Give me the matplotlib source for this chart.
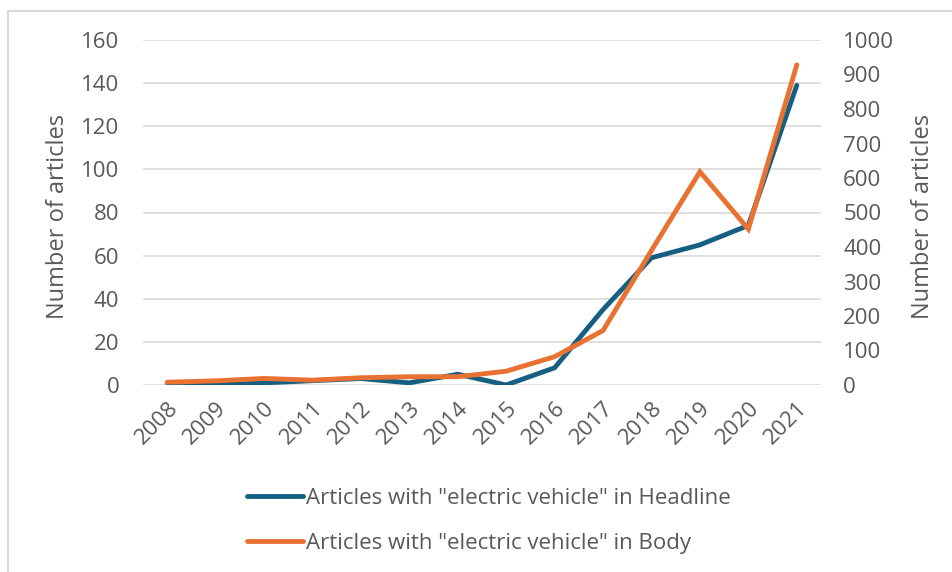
import matplotlib.pyplot as plt
from matplotlib.lines import Line2D

plt.rcParams["font.family"] = ["Open Sans", "DejaVu Sans"]

years = ["2008", "2009", "2010", "2011", "2012", "2013", "2014",
         "2015", "2016", "2017", "2018", "2019", "2020", "2021"]
headline = [1, 0, 1, 2, 3, 1, 5, 0, 8, 35, 59, 65, 74, 139]
body = [8, 12, 19, 14, 21, 24, 24, 40, 82, 158, 390, 618, 452, 928]

BLUE = "#156082"
ORANGE = "#E97132"
TEXT = "#595959"
GRID = "#D9D9D9"
FS = 16

fig = plt.figure(figsize=(9.53, 5.72), dpi=100)
ax = fig.add_axes([143 / 953, 1 - 385 / 572, 678 / 953, 345 / 572])
ax2 = ax.twinx()

x = list(range(len(years)))
l1, = ax.plot(x, headline, color=BLUE, lw=3.5, solid_capstyle="round",
              solid_joinstyle="miter",
              label='Articles with "electric vehicle" in Headline')
l2, = ax2.plot(x, body, color=ORANGE, lw=3.5, solid_capstyle="round",
               solid_joinstyle="miter",
               label='Articles with "electric vehicle" in Body')

ax.set_xlim(-0.5, len(years) - 0.5)
ax.set_ylim(0, 160)
ax2.set_ylim(0, 1000)
ax.set_yticks(range(0, 161, 20))
ax2.set_yticks(range(0, 1001, 100))
ax.set_xticks(x)
ax.set_xticklabels(years, rotation=45, ha="right", va="top",
                   rotation_mode="anchor")

ax.grid(axis="y", color=GRID, lw=1.2)
ax.set_axisbelow(True)
for a in (ax, ax2):
    for s in a.spines.values():
        s.set_visible(False)
ax.tick_params(axis="y", length=0, pad=17, labelsize=FS, labelcolor=TEXT)
ax.tick_params(axis="x", length=0, pad=9, labelsize=FS, labelcolor=TEXT)
ax2.tick_params(axis="y", length=0, pad=16, labelsize=FS, labelcolor=TEXT)

ax.set_ylabel("Number of articles", fontsize=17, color=TEXT)
ax2.set_ylabel("Number of articles", fontsize=17, color=TEXT)
ax.yaxis.set_label_coords(-0.108, 0.49)
ax2.yaxis.set_label_coords(1.133, 0.49)

fig.legend(handles=[l1, l2], loc="upper left",
           bbox_to_anchor=(247 / 953, 1 - 488 / 572),
           frameon=False, fontsize=FS, labelcolor=TEXT,
           handlelength=2.5, handletextpad=0.15, labelspacing=1.09,
           borderpad=0, borderaxespad=0)

# thin frame on the left and top edges
fig.add_artist(Line2D([8 / 953, 8 / 953], [0, 1 - 11 / 572],
                      color=GRID, lw=1.5, transform=fig.transFigure))
fig.add_artist(Line2D([8 / 953, 1], [1 - 11 / 572, 1 - 11 / 572],
                      color=GRID, lw=1.5, transform=fig.transFigure))

fig.savefig("out.png", dpi=100)
